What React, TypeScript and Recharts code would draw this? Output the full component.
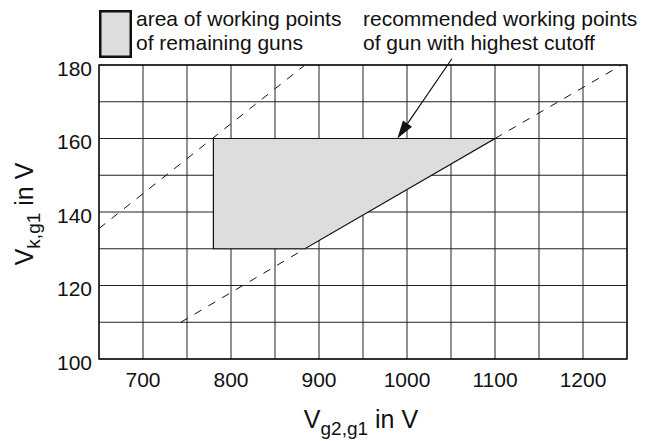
import {
  ComposedChart,
  Area,
  Line,
  XAxis,
  YAxis,
  CartesianGrid,
  ReferenceArea,
  ReferenceLine,
} from 'recharts';

const FONT = '"Liberation Sans", Arial, Helvetica, sans-serif';

// axis ticks (grid every step, labels only on some)
const xTicks = [650, 700, 750, 800, 850, 900, 950, 1000, 1050, 1100, 1150, 1200, 1250];
const xLabels = [700, 800, 900, 1000, 1100, 1200];
const yTicks = [100, 110, 120, 130, 140, 150, 160, 170, 180];
const yLabels = [100, 120, 140, 160, 180];

// shaded area of working points (range area: low..high)
const areaX = [780, 884, 1100];
const areaLow = [130, 130, 160];
const areaHigh = [160, 160, 160];

// outline of the shaded area
const outlineX = [780, 1100, 884, 780, 780];
const outlineY = [160, 160, 130, 130, 160];

// dashed limit lines
const upperDashX = [650, 884];
const upperDashY = [135.5, 180];
const lowerDashX1 = [743, 884];
const lowerDashY1 = [110, 130];
const lowerDashX2 = [1100, 1244];
const lowerDashY2 = [160, 180];

// arrow to the recommended working points
const arrowFrom = { x: 1051, y: 181.7 };
const arrowTo = { x: 989, y: 160 };

const areaData = areaX.map((x, i) => ({ x, band: [areaLow[i], areaHigh[i]] }));
const outlineData = outlineX.map((x, i) => ({ x, y: outlineY[i] }));
const upperDash = upperDashX.map((x, i) => ({ x, y: upperDashY[i] }));
const lowerDash1 = lowerDashX1.map((x, i) => ({ x, y: lowerDashY1[i] }));
const lowerDash2 = lowerDashX2.map((x, i) => ({ x, y: lowerDashY2[i] }));

const XTick = (props: any) => {
  const { x, y, payload } = props;
  if (!xLabels.includes(payload.value)) return null;
  return (
    <text x={x} y={y + 28} textAnchor="middle" fontSize={21} fontFamily={FONT} fill="#111">
      {payload.value}
    </text>
  );
};

const YTick = (props: any) => {
  const { x, y, payload } = props;
  if (!yLabels.includes(payload.value)) return null;
  return (
    <text x={x - 7} y={y + 10.5} textAnchor="end" fontSize={21} fontFamily={FONT} fill="#111">
      {payload.value}
    </text>
  );
};

const XTitle = (props: any) => {
  const { x, y, width } = props.viewBox;
  return (
    <text x={x + width / 2 - 2} y={y + 68.7} textAnchor="middle" fontSize={25} fontFamily={FONT} fill="#111">
      V
      <tspan fontSize={19} dy={7}>g2,g1</tspan>
      <tspan dy={-7}> in V</tspan>
    </text>
  );
};

const YTitle = (props: any) => {
  const { y, height } = props.viewBox;
  const cx = 33;
  const cy = y + height / 2 + 2;
  return (
    <text
      x={cx}
      y={cy}
      transform={`rotate(-90, ${cx}, ${cy})`}
      textAnchor="middle"
      fontSize={25}
      fontFamily={FONT}
      fill="#111"
    >
      V
      <tspan fontSize={19} dy={7}>k,g1</tspan>
      <tspan dy={-7}> in V</tspan>
    </text>
  );
};

const Arrow = (props: any) => {
  const { x1, y1, x2, y2 } = props;
  const ang = Math.atan2(y2 - y1, x2 - x1);
  const len = 18;
  const half = 5.5;
  const bx = x2 - len * Math.cos(ang);
  const by = y2 - len * Math.sin(ang);
  const px = -Math.sin(ang) * half;
  const py = Math.cos(ang) * half;
  return (
    <g>
      <line x1={x1} y1={y1} x2={bx} y2={by} stroke="#111" strokeWidth={1.2} />
      <polygon points={`${x2},${y2} ${bx + px},${by + py} ${bx - px},${by - py}`} fill="#111" />
    </g>
  );
};

export default function App() {
  return (
    <div style={{ position: 'absolute', left: 0, top: 0, width: 657, height: 441, background: '#fff' }}>
      <ComposedChart width={657} height={441} margin={{ top: 65, right: 30, bottom: 0, left: 0 }}>
        <CartesianGrid
          stroke="#222"
          strokeWidth={1}
          horizontal
          vertical
        />
        <XAxis
          type="number"
          dataKey="x"
          domain={[650, 1250]}
          ticks={xTicks}
          allowDataOverflow
          interval={0}
          axisLine={false}
          tickLine={false}
          tickSize={0}
          tickMargin={0}
          height={82}
          tick={<XTick />}
          label={{ content: XTitle }}
        />
        <YAxis
          type="number"
          domain={[100, 180]}
          ticks={yTicks}
          allowDataOverflow
          interval={0}
          axisLine={false}
          tickLine={false}
          tickSize={0}
          tickMargin={0}
          width={99}
          tick={<YTick />}
          label={{ content: YTitle }}
        />
        <Area
          data={areaData}
          dataKey="band"
          type="linear"
          fill="#dddddd"
          fillOpacity={1}
          stroke="none"
          isAnimationActive={false}
          dot={false}
          activeDot={false}
        />
        <Line
          data={outlineData}
          dataKey="y"
          type="linear"
          stroke="#111"
          strokeWidth={1.2}
          dot={false}
          activeDot={false}
          isAnimationActive={false}
        />
        <Line
          data={upperDash}
          dataKey="y"
          type="linear"
          stroke="#111"
          strokeWidth={1}
          strokeDasharray="8 8"
          dot={false}
          activeDot={false}
          isAnimationActive={false}
        />
        <Line
          data={lowerDash1}
          dataKey="y"
          type="linear"
          stroke="#111"
          strokeWidth={1}
          strokeDasharray="8 8"
          dot={false}
          activeDot={false}
          isAnimationActive={false}
        />
        <Line
          data={lowerDash2}
          dataKey="y"
          type="linear"
          stroke="#111"
          strokeWidth={1}
          strokeDasharray="8 8"
          dot={false}
          activeDot={false}
          isAnimationActive={false}
        />
        <ReferenceArea
          x1={650}
          x2={1250}
          y1={100}
          y2={180}
          fill="none"
          fillOpacity={0}
          stroke="#111"
          strokeWidth={1.4}
          ifOverflow="visible"
        />
        <ReferenceLine
          segment={[arrowFrom, arrowTo]}
          ifOverflow="visible"
          shape={Arrow}
        />
      </ComposedChart>
      <svg
        width={657}
        height={80}
        style={{ position: 'absolute', left: 0, top: 0, pointerEvents: 'none' }}
      >
        <rect x={100.25} y={11.25} width={30.5} height={45.5} fill="#dddddd" stroke="#111" strokeWidth={2.5} />
        <g fontFamily={FONT} fontSize={21} fill="#111">
          <text x={136} y={26}>area of working points</text>
          <text x={136} y={50}>of remaining guns</text>
          <text x={363} y={26}>recommended working points</text>
          <text x={363} y={50}>of gun with highest cutoff</text>
        </g>
      </svg>
    </div>
  );
}
